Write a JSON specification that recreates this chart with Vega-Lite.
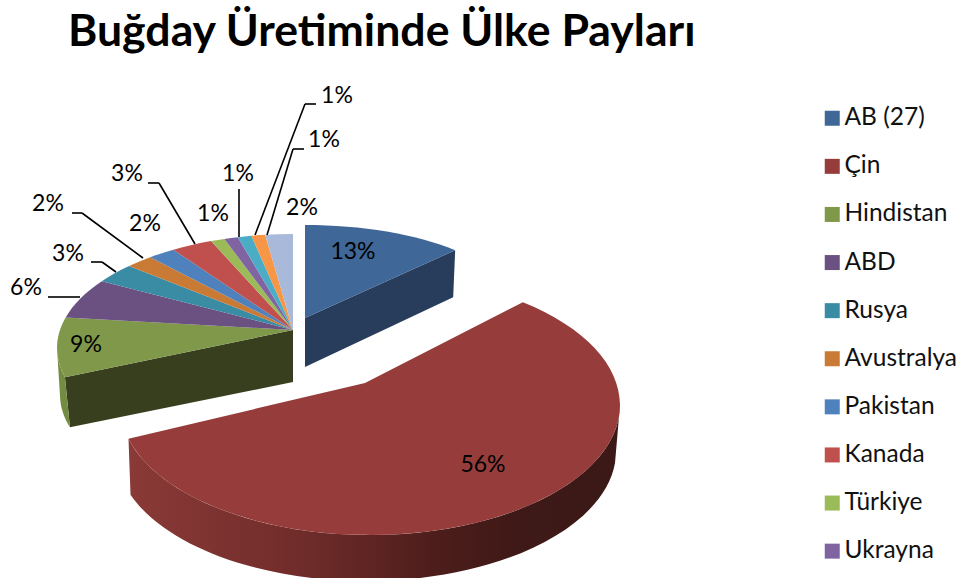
{
"$schema":"https://vega.github.io/schema/vega-lite/v6.json",
"width":963,"height":578,"autosize":"none","padding":0,"background":"white",
"title":{"text":"Buğday Üretiminde Ülke Payları","anchor":"start","frame":"group","dx":68,"dy":91,"offset":0,"baseline":"alphabetic","font":"Lato","fontSize":44.6,"fontWeight":"bold","color":"#000000"},
"config":{"view":{"stroke":null},"font":"Lato"},
"data":{"values":[
{"name":"AB (27)","value":13},
{"name":"Çin","value":56},
{"name":"Hindistan","value":9},
{"name":"ABD","value":6},
{"name":"Rusya","value":3},
{"name":"Avustralya","value":2},
{"name":"Pakistan","value":2},
{"name":"Kanada","value":3},
{"name":"Türkiye","value":1},
{"name":"Ukrayna","value":1},
{"name":"Diğer 1","value":1},
{"name":"Diğer 2","value":1},
{"name":"Diğer 3","value":2}
]},
"transform":[
{"stack":"value","offset":"zero","as":["s0","s1"]},
{"calculate":"datum.name=='Çin'?'c':(datum.name=='AB (27)'?'a':'r')","as":"g"},
{"calculate":"datum.g=='c'?365:(datum.g=='a'?305:293)","as":"ax"},
{"calculate":"datum.g=='c'?383:(datum.g=='a'?318:330)","as":"ay"},
{"calculate":"datum.g=='c'?370:(datum.g=='a'?305:293)","as":"ex"},
{"calculate":"datum.g=='c'?405:(datum.g=='a'?305:348)","as":"ey"},
{"calculate":"datum.g=='c'?250:(datum.g=='a'?206:236)","as":"rx"},
{"calculate":"datum.g=='c'?130:(datum.g=='a'?80:114)","as":"ry"},
{"calculate":"datum.g=='c'?37.7+(datum.s0*3.6-46.8)*1.0779:(datum.g=='a'?datum.s0*3.6:360-(360-datum.s0*3.6)*0.94)","as":"w0"},
{"calculate":"datum.g=='c'?37.7+(datum.s1*3.6-46.8)*1.0779:(datum.g=='a'?datum.s1*3.6:360-(360-datum.s1*3.6)*0.94)","as":"w1"},
{"calculate":"round((datum.ex-datum.ax+datum.rx*sin(datum.w0*PI/180))*100)/100","as":"x0"},
{"calculate":"round((datum.ey-datum.ay-datum.ry*cos(datum.w0*PI/180))*100)/100","as":"y0"},
{"calculate":"round((datum.ex-datum.ax+datum.rx*sin(datum.w1*PI/180))*100)/100","as":"x1"},
{"calculate":"round((datum.ey-datum.ay-datum.ry*cos(datum.w1*PI/180))*100)/100","as":"y1"},
{"calculate":"'M0,0L'+datum.x0+','+datum.y0+'A'+datum.rx+','+datum.ry+' 0 '+(datum.w1-datum.w0>180?1:0)+' 1 '+datum.x1+','+datum.y1+'Z'","as":"top"},
{"calculate":"datum.g=='c'?('M'+(datum.ex-datum.ax+datum.rx)+','+(datum.ey-datum.ay)+'A'+datum.rx+','+datum.ry+' 0 0 1 '+datum.x1+','+datum.y1+'L'+(datum.x1+2)+','+(datum.y1+56)+'A'+datum.rx+','+datum.ry+' 0 0 0 '+(datum.ex-datum.ax+datum.rx-5)+','+(datum.ey-datum.ay+58)+'Z'):(datum.g=='a'?('M0,0L'+datum.x1+','+datum.y1+'L'+(datum.x1-2)+','+(datum.y1+47)+'L0,49Z'):('M0,0L'+datum.x0+','+datum.y0+'L'+(datum.x0+5)+','+(datum.y0+50)+'L0,52Z'))","as":"wall"},
{"calculate":"'M'+(-236)+','+(datum.ey-datum.ay)+'A236,114 0 0 0 '+datum.x0+','+datum.y0+'L'+(datum.x0+5)+','+(datum.y0+50)+'A236,114 0 0 1 '+(-233)+','+(datum.ey-datum.ay+48)+'Z'","as":"sliver"},
{"calculate":"{'AB (27)':[353,252],'Çin':[483,465],'Hindistan':[86,345],'ABD':[26,288],'Rusya':[68,254],'Avustralya':[48,204],'Pakistan':[145,224],'Kanada':[127,174],'Türkiye':[213,214],'Ukrayna':[238,174],'Diğer 1':[337,96],'Diğer 2':[324,140],'Diğer 3':[302,208]}[datum.name]","as":"lab"},
{"calculate":"datum.lab[0]","as":"tx"},
{"calculate":"datum.lab[1]","as":"ty"},
{"calculate":"{'ABD':[48,297,80,297,80,297],'Rusya':[91,262,102,262,116,272],'Avustralya':[72,213,82,213,143,258],'Kanada':[148,183,159,183,195,244],'Ukrayna':[239,189,239,189,239,237],'Diğer 1':[316,104,305,104,255,235],'Diğer 2':[304,149,293,149,267,235]}[datum.name]","as":"lead"}
],
"layer":[
{"transform":[{"filter":"datum.name=='AB (27)'"}],
 "mark":{"type":"point","filled":true,"opacity":1,"fill":"#283C5C"},
 "encoding":{"x":{"field":"ax","type":"quantitative","scale":{"domain":[0,963],"range":[0,963],"nice":false,"zero":false},"axis":null},
 "y":{"field":"ay","type":"quantitative","scale":{"domain":[0,578],"range":[0,578],"nice":false,"zero":false},"axis":null},
 "size":{"value":4},"shape":{"field":"wall","type":"nominal","scale":null}}},
{"transform":[{"filter":"datum.name=='Hindistan'"}],
 "mark":{"type":"point","filled":true,"opacity":1,"fill":"#383F1E"},
 "encoding":{"x":{"field":"ax","type":"quantitative","axis":null},"y":{"field":"ay","type":"quantitative","axis":null},
 "size":{"value":4},"shape":{"field":"wall","type":"nominal","scale":null}}},
{"transform":[{"filter":"datum.name=='Hindistan'"}],
 "mark":{"type":"point","filled":true,"opacity":1,"fill":"#748C42"},
 "encoding":{"x":{"field":"ax","type":"quantitative","axis":null},"y":{"field":"ay","type":"quantitative","axis":null},
 "size":{"value":4},"shape":{"field":"sliver","type":"nominal","scale":null}}},
{"transform":[{"filter":"datum.name=='Çin'"}],
 "mark":{"type":"point","filled":true,"opacity":1,"fill":{"gradient":"linear","x1":0,"y1":0,"x2":1,"y2":0,"stops":[{"offset":0,"color":"#8A3A37"},{"offset":0.35,"color":"#702C2A"},{"offset":0.65,"color":"#4A1C1A"},{"offset":0.8,"color":"#3E1917"},{"offset":1,"color":"#3A1917"}]}},
 "encoding":{"x":{"field":"ax","type":"quantitative","axis":null},"y":{"field":"ay","type":"quantitative","axis":null},
 "size":{"value":4},"shape":{"field":"wall","type":"nominal","scale":null}}},
{"mark":{"type":"point","filled":true,"opacity":1},
 "encoding":{"x":{"field":"ax","type":"quantitative","axis":null},"y":{"field":"ay","type":"quantitative","axis":null},
 "size":{"value":4},"shape":{"field":"top","type":"nominal","scale":null},
 "color":{"field":"name","type":"nominal","sort":null,
  "scale":{"domain":["AB (27)","Çin","Hindistan","ABD","Rusya","Avustralya","Pakistan","Kanada","Türkiye","Ukrayna","Diğer 1","Diğer 2","Diğer 3"],
   "range":["#3F6797","#963D3B","#7F9849","#6A5182","#3A8CA4","#C97B36","#4F81BD","#C0504D","#9BBB59","#8064A2","#4BACC6","#F79646","#A9B9D9"]},
  "legend":{"title":null,"orient":"none","legendX":820,"legendY":106,"values":["AB (27)","Çin","Hindistan","ABD","Rusya","Avustralya","Pakistan","Kanada","Türkiye","Ukrayna"],"symbolType":"square","symbolSize":225,"symbolStrokeWidth":0,"symbolOpacity":1,"labelFont":"Lato","labelFontSize":24.5,"labelColor":"#111111","labelOffset":0,"rowPadding":23.1,"labelLimit":200,"padding":0}}}},
{"transform":[{"filter":"isValid(datum.lead)"},{"calculate":"datum.lead[0]","as":"a"},{"calculate":"datum.lead[1]","as":"b"},{"calculate":"datum.lead[2]","as":"c"},{"calculate":"datum.lead[3]","as":"d"}],
 "mark":{"type":"rule","color":"#000000","strokeWidth":1.6},
 "encoding":{"x":{"field":"a","type":"quantitative","axis":null},"y":{"field":"b","type":"quantitative","axis":null},"x2":{"field":"c"},"y2":{"field":"d"}}},
{"transform":[{"filter":"isValid(datum.lead)"},{"calculate":"datum.lead[2]","as":"a"},{"calculate":"datum.lead[3]","as":"b"},{"calculate":"datum.lead[4]","as":"c"},{"calculate":"datum.lead[5]","as":"d"}],
 "mark":{"type":"rule","color":"#000000","strokeWidth":1.6},
 "encoding":{"x":{"field":"a","type":"quantitative","axis":null},"y":{"field":"b","type":"quantitative","axis":null},"x2":{"field":"c"},"y2":{"field":"d"}}},
{"transform":[{"calculate":"datum.value+'%'","as":"lbl"}],
 "mark":{"type":"text","font":"Lato","fontSize":23,"color":"#000000","align":"center","baseline":"middle"},
 "encoding":{"x":{"field":"tx","type":"quantitative","axis":null},"y":{"field":"ty","type":"quantitative","axis":null},"text":{"field":"lbl"}}}
]
}
